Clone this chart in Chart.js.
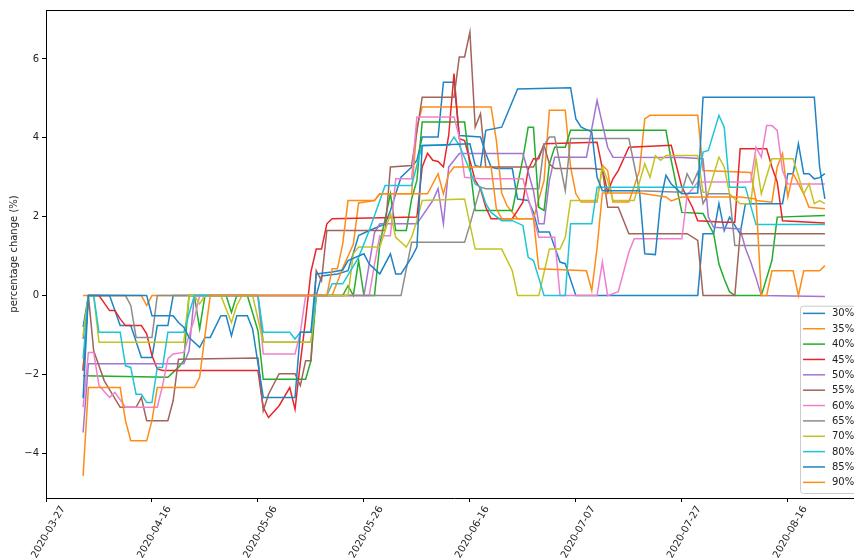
<!DOCTYPE html>
<html>
<head>
<meta charset="utf-8">
<title>percentage change</title>
<script src="https://cdn.jsdelivr.net/npm/chart.js@4.4.1/dist/chart.umd.min.js"></script>
<style>
  html, body { margin: 0; padding: 0; background: #fff; overflow: hidden; }
  #wrap { position: relative; width: 880px; height: 560px; }
</style>
</head>
<body>
<div id="wrap"><canvas id="chart"></canvas></div>
<script>
// legend labels, in plotting order
const seriesNames = ['30%', '35%', '40%', '45%', '50%', '55%', '60%', '65%', '70%', '80%', '85%', '90%'];
const seriesColors = ['#1f84c4', '#ff8c17', '#22ad2b', '#e8262a', '#a374d0', '#a0645a',
                      '#ef80cc', '#8c8c8c', '#c3c422', '#1cc6d8', '#1f84c4', '#ff8c17'];

// x axis: day index from 2020-03-27, labelled every 20 points
const tickIndex = [0, 20, 40, 60, 80, 100, 120, 140];
const tickLabels = ['2020-03-27', '2020-04-16', '2020-05-06', '2020-05-26',
                    '2020-06-16', '2020-07-07', '2020-07-27', '2020-08-16'];
const yTicks = [-4, -2, 0, 2, 4, 6];

// [day index, % change] vertices
const s30 = [[7,-0.8],[8,0],[12,0],[14,-0.76],[16,-0.76],[18,-1.57],[20,-1.57],[21,-0.76],[23,-0.76],[24,0],[51,0],[52,0.5],[55,0.55],[57,0.63],[59,1.52],[61,1.65],[64,1.82],[65,2.16],[67,3.0],[69,3.26],[70,3.43],[71,4.02],[74,4.02],[75,5.41],[77,5.41],[78,4.06],[82,4.02],[83,3.6],[84,3.26],[85,3.22],[88,3.22],[89,2.45],[91,2.41],[92,2.11],[93,1.61],[95,1.61],[97,0.85],[98,0.81],[100,0],[123,0],[124,1.57],[126,1.57],[127,2.33],[128,1.65],[129,1.99],[131,1.57],[132,2.33],[139,2.33],[140,3.09],[141,3.09],[142,3.85],[143,3.09],[144,3.09],[145,2.96],[146,2.99],[147,3.09]];
const s35 = [[7,0],[18,0],[19,-0.25],[20,0],[54,0],[56,0.7],[58,1.3],[59,2.35],[62,2.41],[63,2.58],[69,2.58],[70,4.27],[71,4.78],[84,4.78],[85,3.93],[86,2.6],[87,2.28],[89,1.95],[92,1.95],[94,2.92],[95,4.7],[98,4.7],[99,3.26],[100,2.58],[101,2.37],[104,2.37],[105,3.3],[106,3.17],[107,2.37],[110,2.37],[112,3.17],[113,4.48],[114,4.57],[123,4.57],[124,3.17],[133,3.12],[134,2.41],[137,2.37],[138,3.26],[139,3.6],[140,2.5],[141,3.09],[143,2.58],[144,2.24],[147,2.2]];
const s40 = [[7,-2.03],[23,-2.07],[25,-1.82],[26,-1.65],[27,0],[28,0],[29,-0.84],[30,0],[34,0],[35,-0.42],[36,0],[38,0],[40,-0.89],[41,-2.12],[49,-2.12],[50,-1.65],[51,0],[56,0],[57,0.25],[58,0],[59,0.89],[60,0],[62,0],[63,1.31],[65,2.58],[66,1.65],[68,1.65],[69,2.45],[70,2.92],[71,4.4],[79,4.4],[81,2.16],[88,2.16],[90,3.47],[91,4.27],[92,4.27],[93,2.24],[94,2.16],[95,3.34],[96,3.76],[98,3.76],[99,4.19],[117,4.19],[118,3.43],[120,2.11],[124,2.08],[126,1.57],[127,0.8],[128,0.42],[129,0.1],[130,0],[135,0],[137,0.89],[138,1.99],[147,2.03]];
const s45 = [[7,-1.9],[8,0],[10,0],[12,-0.38],[13,-0.38],[14,-0.59],[15,-0.76],[18,-0.76],[19,-0.97],[20,-1.52],[21,-1.86],[22,-1.9],[40,-1.9],[41,-2.83],[42,-3.09],[44,-2.79],[46,-2.33],[47,-2.88],[48,-1.7],[49,-0.6],[50,0.6],[51,1.18],[52,1.18],[53,1.82],[54,1.95],[70,1.99],[71,3.26],[72,3.61],[73,3.43],[74,3.4],[75,3.26],[76,4.06],[77,5.63],[78,3.98],[79,3.93],[81,2.92],[82,2.71],[83,2.24],[84,1.95],[88,1.95],[90,2.37],[91,3.2],[92,3.47],[93,3.47],[94,3.85],[104,3.89],[105,3.22],[106,2.62],[107,2.96],[108,3.17],[110,3.76],[118,3.81],[120,2.75],[121,2.5],[122,2.24],[123,1.9],[128,1.86],[130,1.86],[131,3.72],[136,3.72],[137,3.26],[138,2.88],[139,1.9],[147,1.84]];
const s50 = [[7,-3.47],[8,-1.73],[26,-1.73],[27,-1.4],[28,0],[60,0],[61,0.8],[62,1.6],[63,1.82],[70,1.82],[73,2.41],[74,2.71],[75,1.82],[76,3.26],[78,3.6],[90,3.6],[92,2.66],[93,1.82],[94,1.82],[95,2.92],[96,3.51],[102,3.51],[104,4.95],[106,3.76],[107,3.51],[120,3.5],[124,3.47],[125,2.0],[126,1.73],[131,1.69],[132,1.2],[133,0.85],[134,0.45],[135,0],[147,-0.02]];
const s55 = [[7,-1.9],[8,0],[9,-1.4],[11,-2.16],[14,-2.83],[17,-2.83],[18,-2.58],[19,-3.17],[23,-3.17],[24,-2.66],[25,-1.61],[40,-1.58],[41,-2.92],[42,-2.5],[44,-1.98],[47,-1.98],[48,-2.28],[49,-1.65],[50,-1.65],[51,0.63],[52,0.38],[53,1.65],[64,1.65],[65,3.26],[69,3.3],[71,5.03],[77,5.03],[78,6.05],[79,6.05],[80,6.68],[81,4.27],[82,4.61],[83,3.26],[92,3.26],[94,3.81],[95,3.34],[96,3.22],[103,3.22],[105,3.2],[106,2.24],[108,2.24],[110,1.57],[121,1.57],[123,1.4],[124,0],[130,0],[131,1.57],[147,1.57]];
const s60 = [[7,-2.83],[8,-1.44],[9,-1.44],[10,-2.28],[12,-2.58],[13,-2.45],[15,-2.83],[21,-2.83],[22,-2.28],[23,-1.6],[24,-1.48],[26,-1.44],[28,-0.59],[29,0],[40,0],[41,-1.48],[47,-1.48],[48,-0.93],[49,0],[61,0],[62,0.8],[63,1.52],[65,1.52],[66,2.96],[69,2.96],[70,4.53],[77,4.53],[78,4.02],[79,3.0],[82,2.96],[90,2.96],[93,1.48],[96,1.48],[97,0],[104,0],[105,0.85],[106,0],[108,0.1],[110,1.1],[111,1.44],[120,1.44],[121,2.55],[122,2.7],[123,2.88],[133,2.88],[134,3.76],[135,3.51],[136,4.31],[137,4.31],[138,4.19],[139,3.17],[140,2.83],[147,2.83]];
const s65 = [[7,-1.1],[8,0],[15,0],[16,-0.25],[17,-1.06],[20,-1.06],[21,0],[40,0],[41,-1.18],[50,-1.18],[51,0],[67,0],[69,1.35],[79,1.35],[80,1.8],[82,2.75],[83,2.71],[93,2.71],[94,3.81],[95,4.02],[96,4.02],[98,2.66],[99,3.98],[110,3.98],[112,2.66],[120,2.62],[121,3.09],[122,2.83],[123,3.13],[124,2.33],[125,2.58],[129,2.58],[130,1.27],[147,1.27]];
const s70 = [[7,-1.0],[8,0],[9,0],[10,-1.18],[26,-1.18],[27,0],[28,0],[29,-0.21],[30,0],[33,0],[35,-0.68],[36,-0.25],[37,0],[39,0],[41,-1.18],[50,-1.18],[51,0],[57,0],[58,1.06],[59,1.23],[63,1.23],[65,2.07],[66,1.48],[68,1.23],[69,1.48],[70,1.9],[71,2.41],[79,2.45],[81,1.18],[86,1.18],[88,0.63],[89,0],[93,0],[95,1.18],[97,1.18],[98,1.48],[99,2.41],[104,2.41],[105,3.26],[106,2.92],[107,2.41],[111,2.41],[113,3.34],[114,3.0],[115,3.55],[116,3.43],[117,3.55],[123,3.55],[124,2.62],[125,2.62],[127,3.51],[128,3.26],[129,2.58],[131,2.33],[133,2.33],[134,3.47],[135,2.58],[137,3.47],[141,3.47],[143,2.58],[144,2.83],[145,2.33],[146,2.41],[147,2.33]];
const s80 = [[7,-1.6],[8,0],[9,0],[10,-0.93],[14,-0.93],[15,-1.78],[16,-1.82],[17,-2.5],[18,-2.5],[19,-2.71],[20,-2.71],[21,-1.82],[22,-1.82],[23,-0.93],[26,-0.93],[28,0],[40,0],[41,-0.93],[46,-0.93],[47,-1.1],[48,-0.93],[50,-0.93],[51,0],[53,0],[54,0.3],[56,0.3],[59,0.97],[61,1.65],[64,2.79],[69,2.79],[71,3.81],[76,3.81],[77,4.02],[78,3.81],[80,3.17],[81,2.83],[82,2.75],[83,2.33],[84,2.11],[86,1.9],[88,1.9],[90,1.78],[91,0.97],[92,0.89],[94,0],[98,0],[99,1.82],[103,1.82],[104,2.75],[123,2.75],[124,3.64],[125,3.68],[127,4.57],[128,4.27],[129,2.75],[132,2.75],[134,1.8],[147,1.8]];
const s85 = [[7,-2.6],[8,0],[19,0],[20,-0.51],[24,-0.51],[25,-0.68],[26,-0.8],[27,-1.06],[29,-1.31],[30,-1.06],[31,-1.06],[33,-0.51],[34,-0.51],[35,-1.02],[36,-0.51],[38,-0.51],[39,-0.85],[41,-2.58],[47,-2.58],[48,-0.93],[50,-0.93],[51,0.55],[54,0.6],[56,0.65],[57,0.89],[60,1.06],[61,0.8],[63,0.55],[65,1.06],[66,0.55],[67,0.55],[69,0.97],[70,1.23],[71,3.8],[80,3.85],[81,3.3],[82,3.26],[83,4.19],[86,4.27],[89,5.24],[99,5.27],[100,4.48],[101,4.27],[103,4.15],[104,3.0],[105,2.66],[112,2.66],[113,1.06],[115,1.04],[116,2.41],[117,3.05],[118,2.83],[120,2.58],[123,2.6],[124,5.03],[145,5.03],[146,3.26],[147,2.45]];
const s90 = [[7,-4.57],[8,-2.33],[14,-2.33],[15,-3.17],[16,-3.68],[19,-3.68],[20,-3.17],[21,-2.33],[28,-2.33],[29,-2.07],[30,-1.0],[31,0],[53,0],[54,0.68],[55,0.68],[56,1.31],[57,2.41],[62,2.41],[63,2.58],[72,2.58],[74,3.09],[75,2.58],[76,3.09],[77,3.26],[84,3.26],[85,2.2],[86,1.95],[92,1.95],[93,0.68],[102,0.63],[103,0.13],[104,1.2],[105,2.6],[112,2.6],[117,2.5],[118,2.4],[120,2.5],[131,2.5],[134,2.45],[135,0],[136,0],[137,0.63],[141,0.63],[142,0],[143,0.63],[146,0.63],[147,0.76]];

const allSeries = [s30, s35, s40, s45, s50, s55, s60, s65, s70, s80, s85, s90];

// matplotlib-style frame: top/right spines and the boxed legend in the lower right
const frameAndLegend = {
    id: 'frameAndLegend',
    afterDraw(chart) {
        const { ctx, chartArea } = chart;
        ctx.save();
        ctx.strokeStyle = '#000';
        ctx.lineWidth = 1;
        ctx.beginPath();
        ctx.moveTo(chartArea.left, chartArea.top + 0.5);
        ctx.lineTo(chartArea.right, chartArea.top + 0.5);
        ctx.lineTo(chartArea.right, chartArea.bottom);
        ctx.stroke();

        const rowH = 15.36;
        const n = chart.data.datasets.length;
        const right = chartArea.right - 5;
        const bottom = chartArea.bottom - 5;
        const height = n * rowH + 3;
        const left = right - 57;
        const top = bottom - height;
        ctx.fillStyle = 'rgba(255,255,255,0.8)';
        ctx.strokeStyle = '#cccccc';
        ctx.beginPath();
        ctx.roundRect(left + 0.5, top + 0.5, right - left, height, 3);
        ctx.fill();
        ctx.stroke();

        ctx.font = '10px "DejaVu Sans"';
        ctx.textBaseline = 'middle';
        ctx.textAlign = 'left';
        chart.data.datasets.forEach((ds, i) => {
            const y = top + 7.7 + i * rowH;
            ctx.strokeStyle = ds.borderColor;
            ctx.lineWidth = 1.5;
            ctx.beginPath();
            ctx.moveTo(left + 3, y);
            ctx.lineTo(left + 25, y);
            ctx.stroke();
            ctx.fillStyle = '#222';
            ctx.fillText(ds.label, left + 32, y + 0.5);
        });
        ctx.restore();
    }
};

const datasets = allSeries.map((s, i) => ({
    label: seriesNames[i],
    data: s.map(p => ({ x: p[0], y: p[1] })),
    borderColor: seriesColors[i],
    backgroundColor: seriesColors[i],
    borderWidth: 1.5,
    pointRadius: 0,
    tension: 0,
    fill: false,
    order: allSeries.length - 1 - i // later series on top, as in matplotlib
}));

const ctx = document.getElementById('chart').getContext('2d');
new Chart(ctx, {
    type: 'line',
    data: { datasets: datasets },
    options: {
        responsive: true,
        maintainAspectRatio: false,
        animation: false,
        layout: { padding: { top: 10, right: 18, left: 0, bottom: 0 } },
        plugins: {
            legend: { display: false },
            tooltip: { enabled: false }
        },
        scales: {
            x: {
                type: 'linear',
                min: 0,
                max: 154,
                afterBuildTicks: (scale) => { scale.ticks = tickIndex.map(v => ({ value: v })); },
                afterFit: (scale) => { scale.height = 62; },
                grid: { drawOnChartArea: false, drawTicks: true, tickLength: 4, color: '#000' },
                border: { color: '#000', width: 1 },
                ticks: {
                    autoSkip: false,
                    minRotation: 60,
                    maxRotation: 60,
                    labelOffset: 17,
                    padding: 2,
                    color: '#222',
                    font: { family: 'DejaVu Sans', size: 10 },
                    callback: (v) => {
                        const k = tickIndex.indexOf(v);
                        return k >= 0 ? tickLabels[k] : '';
                    }
                }
            },
            y: {
                min: -5.13,
                max: 7.24,
                afterBuildTicks: (scale) => { scale.ticks = yTicks.map(v => ({ value: v })); },
                afterFit: (scale) => { scale.width = 46; },
                grid: { drawOnChartArea: false, drawTicks: true, tickLength: 4, color: '#000' },
                border: { color: '#000', width: 1 },
                ticks: {
                    padding: 3,
                    color: '#222',
                    font: { family: 'DejaVu Sans', size: 10 },
                    callback: (v) => String(v).replace('-', '\u2212')
                },
                title: {
                    display: true,
                    text: 'percentage change (%)',
                    color: '#222',
                    font: { family: 'DejaVu Sans', size: 10 },
                    padding: { top: 8, bottom: 0 }
                }
            }
        }
    },
    plugins: [frameAndLegend]
});
</script>
</body>
</html>
